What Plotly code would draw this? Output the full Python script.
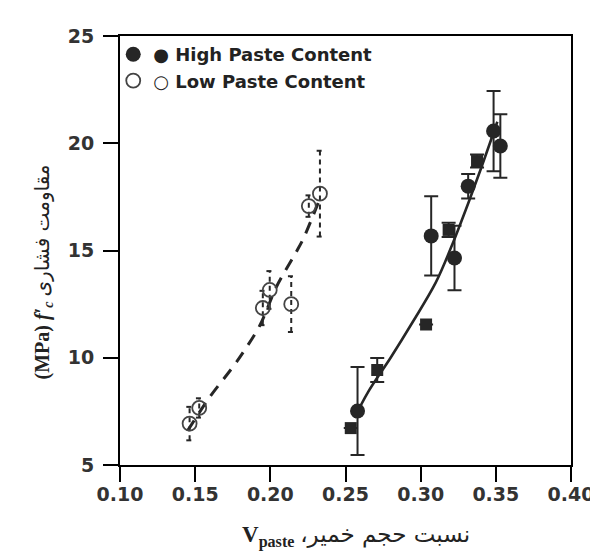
import plotly.graph_objects as go

# ---------------- data ----------------
x_tick_vals = [0.10, 0.15, 0.20, 0.25, 0.30, 0.35, 0.40]
x_tick_text = ["0.10", "0.15", "0.20", "0.25", "0.30", "0.35", "0.40"]
y_tick_vals = [5, 10, 15, 20, 25]
y_tick_text = ["5", "10", "15", "20", "25"]

# High paste content - filled circles
high_circle_x = [0.258, 0.307, 0.3225, 0.3316, 0.3485, 0.353]
high_circle_y = [7.52, 15.68, 14.65, 18.0, 20.57, 19.87]
high_circle_err = [2.05, 1.85, 1.5, 0.57, 1.87, 1.48]

# High paste content - filled squares
high_square_x = [0.2535, 0.2711, 0.3036, 0.3186, 0.3375]
high_square_y = [6.72, 9.43, 11.55, 15.96, 19.17]
high_square_err = [0.0, 0.56, 0.0, 0.33, 0.3]

# High paste fit curve
high_fit_x = [0.256, 0.265, 0.28, 0.295, 0.31, 0.32, 0.33, 0.34, 0.351]
high_fit_y = [7.2, 8.4, 10.0, 11.7, 13.5, 15.1, 16.9, 18.8, 21.0]

# Low paste content - open circles
low_x = [0.1463, 0.1527, 0.195, 0.1996, 0.2139, 0.2256, 0.233]
low_y = [6.93, 7.66, 12.32, 13.16, 12.5, 17.07, 17.65]
low_err = [0.78, 0.45, 0.8, 0.88, 1.3, 0.5, 2.0]

# Low paste fit curve
low_fit_x = [0.145, 0.159, 0.178, 0.193, 0.204, 0.2178, 0.2223, 0.234]
low_fit_y = [6.6, 8.1, 9.85, 11.5, 13.3, 15.0, 15.6, 17.6]

# ---------------- layout constants ----------------
W, H = 598, 557
ML, MR, MT, MB = 112, 25, 28, 100
X_RANGE = [0.10, 0.40]
Y_RANGE = [5, 25]
DARK = "#262626"
TICKFONT = dict(family="DejaVu Sans", size=19, color="#333333", weight="bold")

fig = go.Figure()

# fit curves
fig.add_trace(go.Scatter(
    x=high_fit_x, y=high_fit_y, mode="lines", showlegend=False,
    line=dict(color=DARK, width=2.6, shape="spline", smoothing=1.0),
    hoverinfo="skip"))
fig.add_trace(go.Scatter(
    x=low_fit_x, y=low_fit_y, mode="lines", showlegend=False,
    line=dict(color=DARK, width=3, dash="12px,9px", shape="spline", smoothing=0.8),
    hoverinfo="skip"))

# dashed error bars for low paste content, built from data
cap = 0.0022
ex, ey = [], []
for xv, yv, ev in zip(low_x, low_y, low_err):
    ex += [xv, xv, None, xv - cap, xv + cap, None, xv - cap, xv + cap, None]
    ey += [yv - ev, yv + ev, None, yv + ev, yv + ev, None, yv - ev, yv - ev, None]
fig.add_trace(go.Scatter(
    x=ex, y=ey, mode="lines", showlegend=False, hoverinfo="skip",
    line=dict(color=DARK, width=2, dash="5px,4px")))

# squares
fig.add_trace(go.Scatter(
    x=high_square_x, y=high_square_y, mode="markers", showlegend=False,
    marker=dict(symbol="square", size=12, color=DARK),
    error_y=dict(type="data", array=high_square_err, visible=True,
                 color=DARK, thickness=2, width=7)))

# filled circles
fig.add_trace(go.Scatter(
    x=high_circle_x, y=high_circle_y, mode="markers",
    name="● High Paste Content",
    marker=dict(symbol="circle", size=15, color=DARK),
    error_y=dict(type="data", array=high_circle_err, visible=True,
                 color=DARK, thickness=2, width=7)))

# open circles
fig.add_trace(go.Scatter(
    x=low_x, y=low_y, mode="markers",
    name="○ Low Paste Content",
    marker=dict(symbol="circle-open", size=14, color="#444444",
                line=dict(width=1.8, color="#444444"))))

# ---- axis tick marks on all four sides as line markers (not clipped) ----
ppx = (W - ML - MR) / (X_RANGE[1] - X_RANGE[0])   # pixels per x unit
ppy = (H - MT - MB) / (Y_RANGE[1] - Y_RANGE[0])   # pixels per y unit
MAJ, MIN = 15, 8
x_minor = [round(0.10 + i * 0.005, 4) for i in range(61)]
y_minor = [5 + i * 0.5 for i in range(41)]
x_len = [MAJ if any(abs(v - t) < 1e-9 for t in x_tick_vals) else MIN for v in x_minor]
y_len = [MAJ if any(abs(v - t) < 1e-9 for t in y_tick_vals) else MIN for v in y_minor]

tick_marker = dict(color="black", line=dict(color="black", width=2))
# bottom and top
for base, sgn in ((Y_RANGE[0], -1), (Y_RANGE[1], 1)):
    fig.add_trace(go.Scatter(
        x=x_minor, y=[base + sgn * (L / 2) / ppy for L in x_len],
        mode="markers", showlegend=False, hoverinfo="skip", cliponaxis=False,
        marker=dict(symbol="line-ns", size=x_len, **tick_marker)))
# left and right
for base, sgn in ((X_RANGE[0], -1), (X_RANGE[1], 1)):
    fig.add_trace(go.Scatter(
        x=[base + sgn * (L / 2) / ppx for L in y_len], y=y_minor,
        mode="markers", showlegend=False, hoverinfo="skip", cliponaxis=False,
        marker=dict(symbol="line-ew", size=y_len, **tick_marker)))

fig.update_xaxes(
    range=X_RANGE, showline=True, linecolor="black", linewidth=2,
    mirror=True, ticks="outside", ticklen=15, tickwidth=2, tickcolor="black",
    tickmode="array", tickvals=x_tick_vals, ticktext=x_tick_text,
    ticklabelstandoff=-4, tickfont=TICKFONT, showgrid=False, zeroline=False)
fig.update_yaxes(
    range=Y_RANGE, showline=True, linecolor="black", linewidth=2,
    mirror=True, ticks="outside", ticklen=15, tickwidth=2, tickcolor="black",
    tickmode="array", tickvals=y_tick_vals, ticktext=y_tick_text,
    ticklabelstandoff=5, tickfont=TICKFONT, showgrid=False, zeroline=False)

fig.update_layout(
    width=W, height=H,
    margin=dict(l=ML, r=MR, t=MT, b=MB),
    plot_bgcolor="white", paper_bgcolor="white",
    legend=dict(x=-0.015, y=1.0, xanchor="left", yanchor="top",
                bgcolor="rgba(0,0,0,0)",
                font=dict(family="DejaVu Sans", size=18, color="#222222",
                          weight="bold"),
                tracegroupgap=0),
    annotations=[
        dict(text="<b>(MPa)</b> <b><i>f′<sub>c</sub></i></b> "
                  "<span style='font-family:DejaVu Sans'>مقاومت فشاری</span>",
             xref="paper", yref="paper", x=-0.205, y=0.45,
             textangle=-90, showarrow=False,
             font=dict(family="Liberation Serif", size=20, color="#222222")),
        dict(text="<b>V<sub>paste</sub></b> "
                  "<span style='font-family:DejaVu Sans'>،نسبت حجم خمیر</span>",
             xref="paper", yref="paper", x=0.523, y=-0.205,
             showarrow=False,
             font=dict(family="Liberation Serif", size=23, color="#222222")),
    ],
)

fig.write_html("out.html")
